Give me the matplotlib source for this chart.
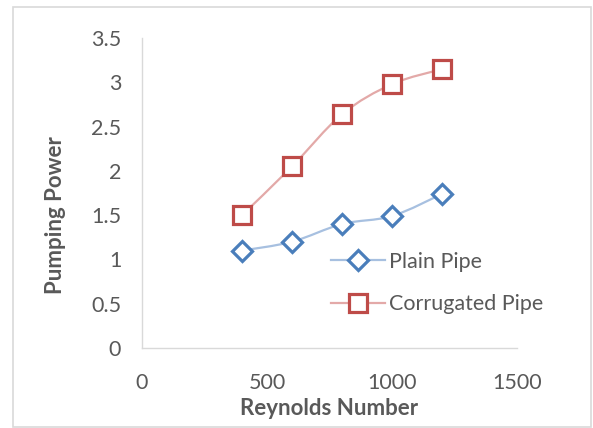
import matplotlib
matplotlib.use("Agg")
import matplotlib.pyplot as plt
from matplotlib.path import Path
from matplotlib.patches import PathPatch, Rectangle
from matplotlib.lines import Line2D
import numpy as np

plt.rcParams['font.family'] = ['Lato', 'DejaVu Sans']

reynolds = [400, 600, 800, 1000, 1200]
plain_pipe = [1.1, 1.2, 1.4, 1.49, 1.74]
corrugated_pipe = [1.5, 2.05, 2.64, 2.98, 3.15]

grey_text = '#595959'
blue = '#4a7ebb'
blue_line = '#a7c0e0'
red = '#be4b48'
red_line = '#e3a9a8'


def smooth_path(xs, ys):
    # Catmull-Rom segments as cubic Bezier curves (like Excel's smoothed line)
    pts = np.column_stack([xs, ys]).astype(float)
    verts = [pts[0]]
    codes = [Path.MOVETO]
    n = len(pts)
    for i in range(n - 1):
        p0 = pts[i - 1] if i > 0 else pts[i]
        p1, p2 = pts[i], pts[i + 1]
        p3 = pts[i + 2] if i + 2 < n else pts[i + 1]
        c1 = p1 + (p2 - p0) / 6
        c2 = p2 - (p3 - p1) / 6
        verts += [c1, c2, p2]
        codes += [Path.CURVE4] * 3
    return Path(verts, codes)


fig = plt.figure(figsize=(5.93, 4.28), dpi=100)
ax = fig.add_axes([0.2395, 0.187, 0.6325, 0.724])

ax.add_patch(PathPatch(smooth_path(reynolds, plain_pipe), fill=False,
                       edgecolor=blue_line, lw=1.6, zorder=2))
ax.add_patch(PathPatch(smooth_path(reynolds, corrugated_pipe), fill=False,
                       edgecolor=red_line, lw=1.6, zorder=2))
ax.plot(reynolds, plain_pipe, ls='none', marker='D', ms=10, mfc='white',
        mec=blue, mew=2.3, zorder=3)
ax.plot(reynolds, corrugated_pipe, ls='none', marker='s', ms=12.5, mfc='white',
        mec=red, mew=2.3, zorder=3)

ax.set_xlim(0, 1500)
ax.set_ylim(0, 3.5)
ax.set_xticks([0, 500, 1000, 1500])
ax.set_yticks([0, 0.5, 1, 1.5, 2, 2.5, 3, 3.5])
ax.set_yticklabels(['0', '0.5', '1', '1.5', '2', '2.5', '3', '3.5'])
ax.tick_params(length=0, labelsize=15.5, colors=grey_text)
ax.tick_params(axis='x', pad=18)
ax.tick_params(axis='y', pad=15)
for s in ['top', 'right']:
    ax.spines[s].set_visible(False)
for s in ['left', 'bottom']:
    ax.spines[s].set_color('#d9d9d9')
    ax.spines[s].set_linewidth(1)

ax.set_xlabel('Reynolds Number', fontsize=16, fontweight='bold', color=grey_text)
ax.set_ylabel('Pumping Power', fontsize=16, fontweight='bold', color=grey_text)
ax.xaxis.label.set_va('center')
ax.xaxis.set_label_coords(0.5, -0.194)
ax.yaxis.label.set_va('center')
ax.yaxis.set_label_coords(-0.232, 0.43)

handles = [
    Line2D([], [], color=blue_line, lw=1.6, marker='D', ms=10, mfc='white', mec=blue, mew=2.3),
    Line2D([], [], color=red_line, lw=1.6, marker='s', ms=12.5, mfc='white', mec=red, mew=2.3),
]
fig.legend(handles, ['Plain Pipe', 'Corrugated Pipe'], loc='upper left',
           bbox_to_anchor=(0.540, 0.437), frameon=False, fontsize=15.5,
           labelcolor=grey_text, handlelength=2.5, handletextpad=0.2,
           labelspacing=1.05, borderpad=0)

fig.patches.append(Rectangle((13 / 593, 1 / 428), 578 / 593, 420 / 428,
                             transform=fig.transFigure, fill=False,
                             edgecolor='#d9d9d9', lw=1.2))

fig.savefig('out.png', dpi=100)
